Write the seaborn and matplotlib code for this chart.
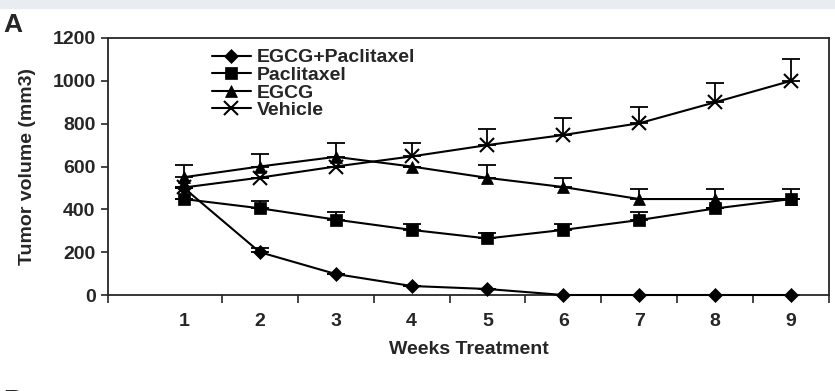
import matplotlib
matplotlib.use('Agg')
from matplotlib import pyplot as plt
from matplotlib.patches import Rectangle
import pandas as pd
import seaborn as sns

### DATA ###
weeks = [1, 2, 3, 4, 5, 6, 7, 8, 9]
groups = ['EGCG+Paclitaxel', 'Paclitaxel', 'EGCG', 'Vehicle']
combo = [500, 200, 98, 42, 28, 0, 0, 0, 0]
paclitaxel = [448, 405, 352, 304, 264, 304, 350, 404, 448]
egcg = [550, 600, 645, 600, 547, 504, 448, 448, 448]
vehicle = [502, 548, 600, 647, 700, 747, 802, 900, 1000]
# upper error bars (only the upper half is drawn in the figure)
combo_err = [0, 20, 0, 0, 0, 0, 0, 0, 0]
paclitaxel_err = [0, 35, 35, 27, 25, 27, 38, 0, 0]
egcg_err = [57, 58, 65, 0, 60, 43, 47, 47, 47]
vehicle_err = [0, 0, 0, 63, 75, 80, 76, 90, 100]

values = [combo, paclitaxel, egcg, vehicle]
errors = [combo_err, paclitaxel_err, egcg_err, vehicle_err]
df = pd.DataFrame({
    'week': weeks * len(groups),
    'volume': sum(values, []),
    'err': sum(errors, []),
    'group': [g for g in groups for _ in weeks],
})

sns.set_style('ticks')
plt.rcParams['font.family'] = ['Liberation Sans', 'DejaVu Sans']
plt.rcParams['font.weight'] = 'bold'
FS = 14

fig = plt.figure(figsize=(8.35, 3.91), dpi=100)
ax = fig.add_axes([108 / 835, 96 / 391, 721 / 835, 257 / 391])

markers = {'EGCG+Paclitaxel': 'D', 'Paclitaxel': 's', 'EGCG': '^', 'Vehicle': 'x'}
sizes = {'EGCG+Paclitaxel': 7, 'Paclitaxel': 8, 'EGCG': 8.5, 'Vehicle': 9.5}

# error bars first so the markers sit on top
for g, sub in df.groupby('group', sort=False):
    ax.errorbar(sub['week'], sub['volume'], yerr=[[0] * len(sub), sub['err']],
                fmt='none', ecolor='black', elinewidth=1.3, capsize=6.5,
                capthick=1.3, clip_on=False, zorder=2)

handles = []
for g, sub in df.groupby('group', sort=False):
    sns.lineplot(data=sub, x='week', y='volume', color='black', marker=markers[g],
                 markersize=sizes[g], markerfacecolor='black', markeredgecolor='black',
                 markeredgewidth=1.5 if g == 'Vehicle' else 0.5,
                 linewidth=1.5, ax=ax, zorder=3)
    line = ax.lines[-1]
    line.set_clip_on(False)
    handles.append(line)

ax.set_xlim(0.5, 9.5)
ax.set_ylim(0, 1200)
ax.set_yticks(range(0, 1201, 200))
ax.set_xticks(weeks)
ax.set_xticks([w + 0.5 for w in [-0.5] + weeks], minor=True)
ax.tick_params(axis='x', which='major', length=0, pad=13, labelsize=FS)
ax.tick_params(axis='x', which='minor', length=6, width=1.2, direction='out')
ax.tick_params(axis='y', length=5, width=1.2, direction='out', pad=4, labelsize=FS)
for lab in ax.get_xticklabels() + ax.get_yticklabels():
    lab.set_fontweight('bold')
for s in ax.spines.values():
    s.set_linewidth(1.3)

ax.set_xlabel('Weeks Treatment', fontsize=FS, fontweight='bold', labelpad=8)
ax.set_ylabel('Tumor volume (mm3)', fontsize=FS, fontweight='bold', labelpad=12)

ax.legend(handles, groups, loc='upper left', bbox_to_anchor=(0.144, 0.958),
          frameon=False, borderpad=0, borderaxespad=0, handlelength=2.0,
          handletextpad=0.3, labelspacing=0.0,
          prop={'size': FS, 'weight': 'bold'})

# panel letter and page strip
fig.add_artist(Rectangle((0, 1 - 8 / 391), 1, 8 / 391, transform=fig.transFigure,
                         color='#e9ecf0', zorder=0))
fig.text(0.004, 0.967, 'A', fontsize=19, fontweight='bold', va='top', ha='left')
fig.text(0.004, -0.055, 'B', fontsize=19, fontweight='bold', va='bottom', ha='left')

fig.savefig('out.png', dpi=100)
